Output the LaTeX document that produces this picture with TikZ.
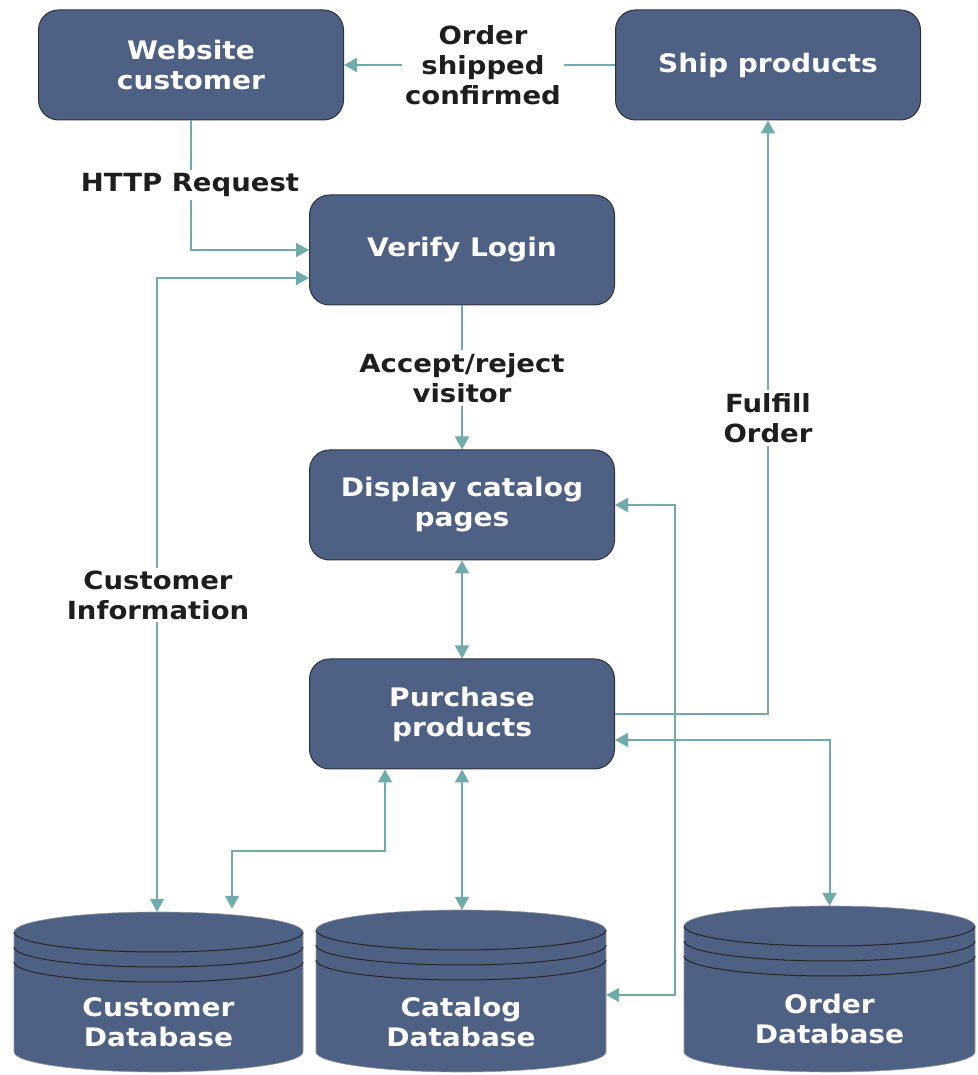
\documentclass[tikz,border=0pt]{standalone}
\usepackage{fontspec}
\setmainfont[FakeStretch=1.1]{DejaVu Sans}
\usetikzlibrary{arrows.meta,calc}
\definecolor{boxfill}{HTML}{4E6184}
\definecolor{boxline}{HTML}{2A3242}
\definecolor{flowcol}{HTML}{6EABA9}
\definecolor{lbltext}{HTML}{1E1E1E}
\newcommand{\mydb}[5]{% xl, xr, Yc, Yb, rx
  \fill[boxfill] (#1,#3) -- (#1,#4) arc[start angle=180,end angle=360,x radius=#5pt,y radius=20pt] -- (#2,#3) arc[start angle=0,end angle=180,x radius=#5pt,y radius=20pt] -- cycle;
  \draw[boxline!50,line width=0.6pt] (#1,#3) -- (#1,#4) arc[start angle=180,end angle=360,x radius=#5pt,y radius=20pt] -- (#2,#3) arc[start angle=0,end angle=180,x radius=#5pt,y radius=20pt];
  \foreach \dd in {0,15,30}{
    \draw[black!85,line width=1pt] (#1,#3-\dd) arc[start angle=180,end angle=360,x radius=#5pt,y radius=20pt];
  }
}
\tikzset{
  box/.style={rectangle, rounded corners=20pt, draw=boxline, fill=boxfill, line width=1pt,
    minimum width=305pt, minimum height=110pt, text=white, align=center,
    font=\bfseries\fontsize{25.5}{30}\selectfont},
  dbarea/.style={rectangle, inner sep=0pt, minimum width=#1},
  dbtext/.style={text=white, align=center, font=\bfseries\fontsize{25.5}{30}\selectfont},
  lbl/.style={fill=white, text=lbltext, align=center, inner sep=3pt, font=\bfseries\fontsize{25}{30}\selectfont},
  flow/.style={draw=flowcol, line width=2pt, -{Triangle[length=13pt,width=14pt]}},
  bi/.style={draw=flowcol, line width=2pt, {Triangle[length=13pt,width=14pt]}-{Triangle[length=13pt,width=14pt]}}
}
\begin{document}
\begin{tikzpicture}[x=1pt,y=1pt]
\useasboundingbox (0,0) rectangle (977,1075);
% boxes
\node[box] (web) at (191,1010) {Website\\customer};
\node[box] (ship) at (768,1010) {Ship products};
\node[box] (verify) at (462,825) {Verify Login};
\node[box] (display) at (462,570) {Display catalog\\pages};
\node[box] (purchase) at (462,361) {Purchase\\products};
% databases
\mydb{14}{303}{143}{23}{144.5}
\mydb{316}{606}{145}{23}{145}
\mydb{684}{975}{149}{23}{145.5}
\node[dbarea=289pt, minimum height=160pt] (custdb) at (158.5,83) {};
\node[dbarea=290pt, minimum height=162pt] (catdb) at (461,84) {};
\node[dbarea=291pt, minimum height=166pt] (orderdb) at (829.5,86) {};
\node[dbtext] (custtxt) at (158.5,53) {Customer\\Database};
\node[dbtext] (cattxt) at (461,53) {Catalog\\Database};
\node[dbtext] (ordertxt) at (829.5,56) {Order\\Database};
% connectors
\draw[flow] (ship.west) -- (web.east);
\draw[flow] (web.south) |- (verify.west);
\draw[bi] ([yshift=-28pt]verify.west) -| ([xshift=-1.5pt]custdb.north);
\draw[flow] (verify.south) -- (display.north);
\draw[bi] (display.south) -- (purchase.north);
\draw[flow] (purchase.east) -| (ship.south);
\draw[bi] (display.east) -- ++(60,0) |- ([yshift=-4pt]catdb.east);
\draw[bi] ([yshift=-26pt]purchase.east) -| (orderdb.north);
\draw[bi] (purchase.south) -- (purchase.south |- catdb.north);
\draw[bi, shorten >=3pt] ([xshift=-77pt]purchase.south) -- ++(0,-82) -| ([xshift=73.5pt]custdb.north);
% labels
\node[lbl] (l1) at (483,1010) {Order\\shipped\\confirmed};
\node[lbl] (l2) at (190,890) {HTTP Request};
\node[lbl] (l3) at (158,480) {Customer\\Information};
\node[lbl] (l4) at (462,697) {Accept/reject\\visitor};
\node[lbl] (l5) at (768,657) {Fulfill\\Order};
\end{tikzpicture}
\end{document}
